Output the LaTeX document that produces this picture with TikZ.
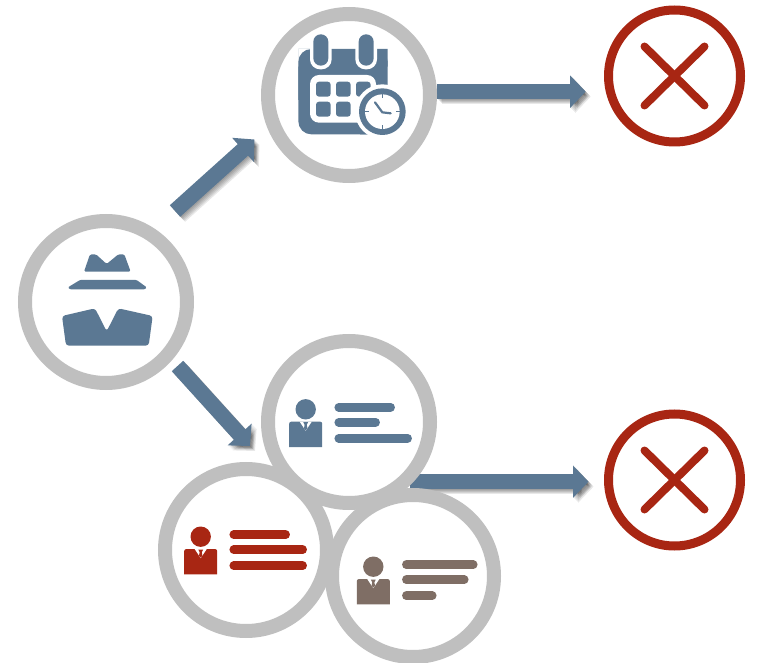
\documentclass[tikz,border=0pt]{standalone}
\usetikzlibrary{arrows.meta,backgrounds}
\definecolor{slate}{HTML}{5B7893}
\definecolor{ring}{HTML}{BFBFBF}
\definecolor{rust}{HTML}{A82613}
\definecolor{taupe}{HTML}{7F6E65}
\tikzset{
	ringnode/.style={circle,draw=ring,fill=white,line width=14pt,minimum size=162pt,inner sep=0pt,outer sep=0pt},
	crossnode/.style={circle,draw=rust,fill=white,line width=9pt,minimum size=132pt,inner sep=0pt,outer sep=0pt},
	crossline/.style={draw=rust,line width=8pt,line cap=round},
	flow/.style={draw=slate,line width=15.5pt,-{Triangle[width=31.5pt,length=15.5pt]}},
	flowshade/.style={draw=black,opacity=.09,line width=15.5pt,-{Triangle[width=31.5pt,length=15.5pt]}},
	textline/.style={line width=8.5pt,line cap=round},
}
% arrow with a soft shadow under it
\newcommand{\flowarrow}[2]{
	\foreach \d in {1,2,...,5}
		\draw[flowshade] ([xshift=\d pt,yshift=-\d pt]#1) -- ([xshift=\d pt,yshift=-\d pt]#2);
	\draw[flow] (#1) -- (#2);
}
% person with three text lines: x, y of the head, colour, line lengths
\newcommand{\personcard}[6]{
	\begin{scope}[shift={(#1,#2)}]
		\fill[#3] (0,0) circle (10.2);
		\fill[#3] (-16.5,37.7) -- (-16.5,14.4) arc (180:270:2) -- (14.5,12.4) arc (270:360:2) -- (16.5,37.7) -- cycle;
		\fill[white] (-6,12.4) -- (6,12.4) -- (0,21.5) -- cycle;
		\fill[#3] (-2.4,12.9) -- (2.4,12.9) -- (1.1,15.5) -- (1.7,19) -- (0,21) -- (-1.7,19) -- (-1.1,15.5) -- cycle;
		\draw[#3,textline] (33,-2) -- ++(#4-8,0);
		\draw[#3,textline] (33,13) -- ++(#5-8,0);
		\draw[#3,textline] (33,29) -- ++(#6-8,0);
	\end{scope}
}
\begin{document}
\begin{tikzpicture}[x=1pt,y=-1pt]
	\useasboundingbox (0,0) rectangle (758,663);
	% nodes
	\node[ringnode] (spy) at (106,302) {};
	\node[ringnode] (calendar) at (349,95) {};
	\node[ringnode] (blue) at (349,422) {};
	\node[ringnode] (red) at (246,550) {};
	\node[ringnode] (brown) at (413,576) {};
	\node[crossnode] (stop1) at (674.5,76) {};
	\node[crossnode] (stop2) at (674.5,480) {};
	% arrow ends
	\coordinate (a1) at (175,211);
	\coordinate (b1) at (254.5,139.5);
	\coordinate (a2) at (177.5,366);
	\coordinate (b2) at (250,446);
	\coordinate (a3) at (437,91.7);
	\coordinate (b3) at (585.7,91.7);
	\coordinate (a4) at (410,481.7);
	\coordinate (b4) at (588.5,481.7);
	\begin{pgfonlayer}{background}
		\flowarrow{a1}{b1}
		\flowarrow{a2}{b2}
		\flowarrow{a3}{b3}
		\flowarrow{a4}{b4}
	\end{pgfonlayer}
	% crosses
	\draw[crossline] ([xshift=-30pt,yshift=29.5pt]stop1.center) -- ([xshift=30pt,yshift=-29.5pt]stop1.center);
	\draw[crossline] ([xshift=-30pt,yshift=-29.5pt]stop1.center) -- ([xshift=30pt,yshift=29.5pt]stop1.center);
	\draw[crossline] ([xshift=-30pt,yshift=29.5pt]stop2.center) -- ([xshift=30pt,yshift=-29.5pt]stop2.center);
	\draw[crossline] ([xshift=-30pt,yshift=-29.5pt]stop2.center) -- ([xshift=30pt,yshift=29.5pt]stop2.center);
	% spy
	\begin{scope}[shift={(10,210)},scale=1/3]
		\fill[slate,rounded corners=1.5pt] (222,185) -- (240,133) -- (258,133) -- (290,162) -- (325,133) -- (343,133) -- (362,185) -- cycle;
		\fill[slate,rounded corners=1pt] (174,232) -- (210,210) -- (380,210) -- (410,232) -- (405,238) -- (180,238) -- cycle;
		\fill[slate,rounded corners=3pt] (156,318) -- (255,295) -- (290,364) -- (325,295) -- (428,318) -- (416,407) -- (168,407) -- cycle;
	\end{scope}
	% calendar
	\begin{scope}[shift={(260,0)},scale=1/3]
		\fill[slate,rounded corners=13pt] (115,147) -- (115,403) -- (383,403) -- (383,147) -- cycle;
		\fill[slate] (383,147) rectangle (300,200) (115,147) rectangle (180,200) (115,300) rectangle (200,147) (300,403) rectangle (383,300);
		\fill[white,rounded corners=9pt] (150,225) -- (150,368) -- (348,368) -- (348,225) -- cycle;
		\foreach \px/\py in {168/245,228/245,288/245,168/305,228/305}
			\fill[slate,rounded corners=3pt] (\px,\py) rectangle ++(44,45);
		\fill[white,rounded corners=10pt] (150,93) rectangle (215,208);
		\fill[white,rounded corners=10pt] (286,93) rectangle (351,208);
		\fill[slate,rounded corners=7.4pt] (160,103) rectangle (205,197);
		\fill[slate,rounded corners=7.4pt] (296,103) rectangle (341,197);
		\fill[white] (367,335) circle (82);
		\fill[slate] (367,335) circle (70);
		\fill[white] (367,335) circle (52);
		\draw[slate,line width=1pt] (367,283) -- (367,295) (367,387) -- (367,375) (315,335) -- (327,335) (419,335) -- (407,335);
		\draw[slate,line width=2.2pt,line cap=round] (345,307) -- (367,337) -- (392,340);
	\end{scope}
	% cards
	\personcard{305.7}{409.3}{slate}{60}{45}{77}
	\personcard{200.7}{536.7}{rust}{60}{77}{77}
	\personcard{373.3}{566.7}{taupe}{75}{66}{34}
\end{tikzpicture}
\end{document}
